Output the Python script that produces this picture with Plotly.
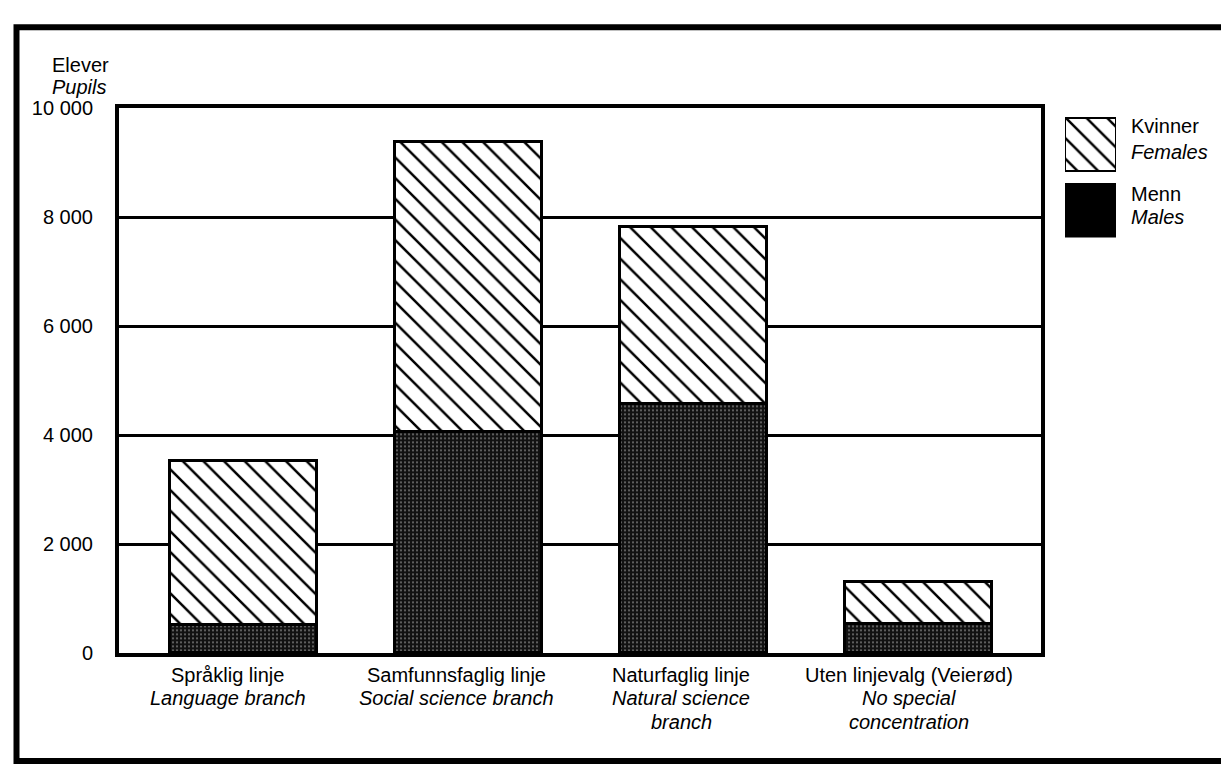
import plotly.graph_objects as go

# ---- data ----
categories_no = ["Språklig linje", "Samfunnsfaglig linje", "Naturfaglig linje", "Uten linjevalg (Veierød)"]
categories_en = [["Language branch"], ["Social science branch"], ["Natural science", "branch"], ["No special", "concentration"]]
males = [520, 4060, 4560, 535]
females = [3010, 5320, 3250, 765]
y_ticks = [0, 2000, 4000, 6000, 8000, 10000]
y_tick_labels = ["0", "2 000", "4 000", "6 000", "8 000", "10 000"]
legend_no = ["Kvinner", "Menn"]
legend_en = ["Females", "Males"]

W, H = 1229, 768
FONT = "Liberation Sans, Arial, Helvetica, sans-serif"

def px_x(v):
    return v / W

def px_y(v):
    return 1 - v / H

x_idx = list(range(len(categories_no)))
label_xshift = [-16, -12, -12, -9]
label_line_y = [675, 699, 724]

male_pattern = dict(shape=".", bgcolor="#111111", fgcolor="#cfcfcf", size=4, solidity=0.22)
female_pattern = dict(shape="\\", bgcolor="white", fgcolor="black", fgopacity=1,
                      size=14.6, solidity=0.17)

fig = go.Figure()
fig.add_trace(go.Bar(x=x_idx, y=males, name="Menn", width=0.654,
                     marker=dict(color="#111111", pattern=male_pattern,
                                 line=dict(color="black", width=3)),
                     showlegend=False))
fig.add_trace(go.Bar(x=x_idx, y=females, name="Kvinner", width=0.654,
                     marker=dict(color="white", pattern=female_pattern,
                                 line=dict(color="black", width=3)),
                     showlegend=False))

# legend swatches on a small helper axis
fig.add_trace(go.Bar(x=[0], y=[55], base=[0], width=[1], xaxis="x2", yaxis="y2",
                     marker=dict(color="black", line=dict(color="black", width=2)),
                     showlegend=False, hoverinfo="skip"))
fig.add_trace(go.Bar(x=[0], y=[55], base=[68], width=[1], xaxis="x2", yaxis="y2",
                     marker=dict(color="white", pattern=female_pattern,
                                 line=dict(color="black", width=2.5)),
                     showlegend=False, hoverinfo="skip"))

fig.update_layout(
    width=W, height=H,
    barmode="stack",
    paper_bgcolor="white", plot_bgcolor="white",
    margin=dict(l=0, r=0, t=0, b=0),
    font=dict(family=FONT, size=20, color="black"),
    xaxis=dict(domain=[px_x(111), px_x(1033)], range=[-0.556, 3.547],
               tickmode="array", tickvals=x_idx, showticklabels=False,
               showgrid=False, zeroline=False, showline=True, linecolor="black",
               linewidth=4, mirror=True, ticks=""),
    yaxis=dict(domain=[px_y(653), px_y(92)], range=[0, 10000],
               tickmode="array", tickvals=y_ticks, ticktext=y_tick_labels,
               showgrid=True, gridcolor="black", gridwidth=2.5,
               zeroline=False, showline=True, linecolor="black", linewidth=4,
               mirror=True, ticks="", ticklabelstandoff=18,
               tickfont=dict(size=20)),
    xaxis2=dict(domain=[px_x(1057), px_x(1108)], range=[-0.5, 0.5], anchor="y2",
                visible=False, fixedrange=True),
    yaxis2=dict(domain=[px_y(225), px_y(101)], range=[0, 124], anchor="x2",
                visible=False, fixedrange=True),
    bargap=0,
)

# outer frame
fig.add_shape(type="rect", xref="paper", yref="paper",
              x0=px_x(8.5), x1=px_x(1226), y0=px_y(8.5), y1=px_y(764),
              line=dict(color="black", width=6), fillcolor="rgba(0,0,0,0)", layer="above")

def text_at(x, y, txt, italic=False, anchor="left", xref="paper", xshift=0):
    fig.add_annotation(xref=xref, yref="paper", x=x, y=px_y(y), xshift=xshift,
                       xanchor=anchor, yanchor="middle", showarrow=False,
                       text=f"<i>{txt}</i>" if italic else txt, font=dict(size=20))

# category labels below the axis
for i, (no, en_lines) in enumerate(zip(categories_no, categories_en)):
    lines = [(no, False)] + [(l, True) for l in en_lines]
    for j, (t, it) in enumerate(lines):
        text_at(x_idx[i], label_line_y[j], t, italic=it, anchor="center",
                xref="x", xshift=label_xshift[i])

# axis title
text_at(px_x(42), 47, "Elever")
text_at(px_x(42), 70, "Pupils", italic=True)

# legend texts
text_at(px_x(1121), 110, legend_no[0])
text_at(px_x(1121), 137, legend_en[0], italic=True)
text_at(px_x(1121), 180, legend_no[1])
text_at(px_x(1121), 204, legend_en[1], italic=True)

fig.write_html("out.html")
